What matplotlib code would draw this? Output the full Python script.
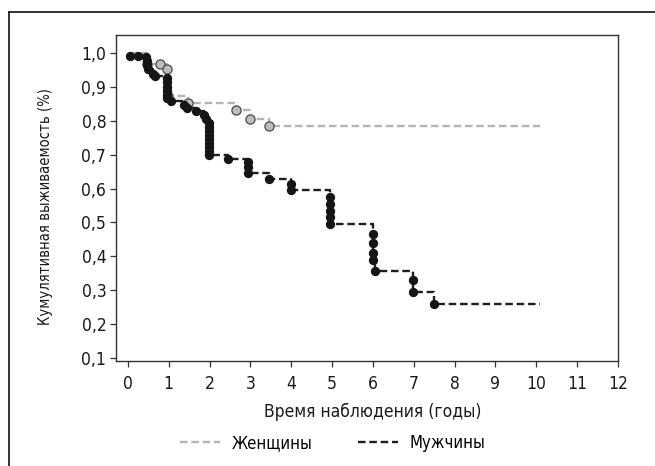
import matplotlib
matplotlib.use("Agg")
import matplotlib.pyplot as plt
from matplotlib.lines import Line2D

plt.rcParams["font.family"] = ["DejaVu Sans"]
plt.rcParams["font.stretch"] = "condensed"

# Kaplan-Meier points (time in years, cumulative survival), one marker per point
women_start = (0.05, 1.0)
women_time = [0.48, 0.78, 0.97, 0.98, 1.48, 2.66, 2.98, 3.46]
women_surv = [0.968, 0.968, 0.953, 0.874, 0.852, 0.832, 0.805, 0.785]
women_end = 10.1

men_start = (0.05, 0.99)
men_time = [0.05, 0.25, 0.45, 0.46, 0.46, 0.50, 0.62, 0.66,
            0.95, 0.95, 0.95, 0.95, 0.95, 0.95,
            1.05, 1.37, 1.46, 1.68, 1.87, 1.91,
            1.98, 1.98, 1.98, 1.98, 1.98, 1.98, 1.98, 1.98, 1.98,
            2.46, 2.95, 2.95, 2.95, 3.46, 4.00, 4.00,
            4.94, 4.94, 4.94, 4.94, 4.94,
            5.99, 5.99, 5.99, 5.99, 6.05,
            6.98, 6.98, 7.50]
men_surv = [0.990, 0.990, 0.988, 0.977, 0.963, 0.953, 0.938, 0.931,
            0.925, 0.913, 0.900, 0.888, 0.877, 0.866,
            0.858, 0.847, 0.839, 0.829, 0.817, 0.804,
            0.793, 0.781, 0.770, 0.758, 0.746, 0.734, 0.722, 0.711, 0.699,
            0.687, 0.679, 0.663, 0.647, 0.628, 0.614, 0.596,
            0.576, 0.555, 0.535, 0.515, 0.496,
            0.466, 0.440, 0.411, 0.389, 0.357,
            0.330, 0.296, 0.260]
men_end = 10.1

x_ticks = list(range(0, 13))
y_ticks = [0.1, 0.2, 0.3, 0.4, 0.5, 0.6, 0.7, 0.8, 0.9, 1.0]
y_labels = [f"{v:.1f}".replace(".", ",") for v in y_ticks]

WOMEN_COLOR = "#b4b4b4"
MEN_COLOR = "#1e1e1e"
DASH = (0, (3.2, 1.6))
FS = 12.5

fig = plt.figure(figsize=(6.55, 4.66), dpi=100)
ax = fig.add_axes([0.1771, 0.2253, 0.7664, 0.6996])


def draw_curve(start, times, surv, end, color, face, edge, size, z):
    t = [start[0]] + list(times) + [end]
    s = [start[1]] + list(surv) + [surv[-1]]
    ax.step(t, s, where="post", color=color, linestyle=DASH, linewidth=1.7, zorder=z)
    ax.plot(times, surv, linestyle="none", marker="o", markersize=size,
            markerfacecolor=face, markeredgecolor=edge, markeredgewidth=0.9,
            zorder=z + 1)


draw_curve(women_start, women_time, women_surv, women_end, WOMEN_COLOR,
           "#bdbdbd", "#4a4a4a", 6.6, 2)
draw_curve(men_start, men_time, men_surv, men_end, MEN_COLOR,
           "#151515", "#151515", 5.8, 4)

ax.set_xlim(-0.29, 12)
ax.set_ylim(0.091, 1.053)
ax.set_xticks(x_ticks)
ax.set_xticklabels([str(v) for v in x_ticks])
ax.set_yticks(y_ticks)
ax.set_yticklabels(y_labels)
ax.tick_params(axis="both", labelsize=FS, length=4, width=0.9, color="#333333",
               labelcolor="#1a1a1a")
ax.tick_params(axis="x", pad=6)
ax.tick_params(axis="y", pad=3)
for spine in ax.spines.values():
    spine.set_color("#333333")
    spine.set_linewidth(1.0)

ax.set_xlabel("Время наблюдения (годы)", fontsize=FS, color="#1a1a1a", labelpad=8)
ax.xaxis.set_label_coords(0.512, -0.128)
ax.set_ylabel("Кумулятивная выживаемость (%)", fontsize=10.6, color="#1a1a1a")
ax.yaxis.set_label_coords(-0.125, 0.475)

handles = [
    Line2D([], [], color=WOMEN_COLOR, linestyle=DASH, linewidth=1.7),
    Line2D([], [], color=MEN_COLOR, linestyle=DASH, linewidth=1.7),
]
fig.legend(handles, ["Женщины", "Мужчины"], loc="center", ncol=2,
           bbox_to_anchor=(0.508, 0.049), frameon=False, fontsize=12,
           handlelength=2.4, columnspacing=2.7, handletextpad=0.7)

# cropped outer border: left and top edges only
fig.add_artist(Line2D([9 / 655, 9 / 655], [0, 1 - 12 / 466], transform=fig.transFigure,
                      color="#111111", linewidth=1.2))
fig.add_artist(Line2D([9 / 655, 1], [1 - 12 / 466, 1 - 12 / 466], transform=fig.transFigure,
                      color="#111111", linewidth=1.2))

fig.savefig("out.png", dpi=100)
